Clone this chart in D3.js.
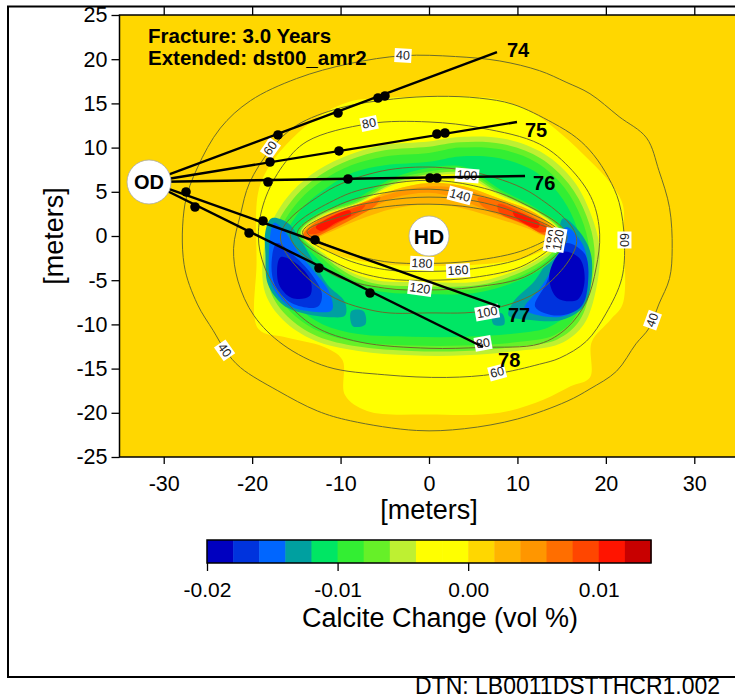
<!DOCTYPE html>
<html>
<head>
<meta charset="utf-8">
<script src="https://cdn.jsdelivr.net/npm/d3@7"></script>
<style>
  body { margin: 0; background: #fff; }
  text { font-family: "Liberation Sans", Arial, Helvetica, sans-serif; }
</style>
</head>
<body>
<svg width="735" height="700"></svg>
<script>
// ---- data ----
var xTicks = [-30, -20, -10, 0, 10, 20, 30];
var yTicks = [25, 20, 15, 10, 5, 0, -5, -10, -15, -20, -25];
var cbTicks = [-0.02, -0.01, 0.00, 0.01];
var bandEdges = [-0.020, -0.018, -0.016, -0.014, -0.012, -0.010, -0.008, -0.006, -0.004,
                 -0.002, 0.000, 0.002, 0.004, 0.006, 0.008, 0.010, 0.012, 0.014];
var bandColors = ["#0000c0", "#0033dd", "#0066ff", "#00a0a0", "#00e664", "#33ee33", "#66f028",
                  "#bef032", "#ffff00", "#ffff00", "#ffd700", "#ffb400", "#ff9600", "#ff6e00",
                  "#ff4600", "#ff1400", "#c80000"];
var titleLines = ["Fracture: 3.0 Years", "Extended: dst00_amr2"];

// calcite change regions [x, y] in meters
var yellowOuter = [[0,15.8],[-5,15.6],[-9,15.2],[-12.5,13.5],[-15.5,11],[-18,8],[-19.3,5],[-19.5,-3],[-19.3,-10.5],[-16,-11.5],[-12,-12.5],[-9.8,-14],[-9.5,-18],[-7,-19.8],[0,-20.2],[8,-20],[13,-18.5],[16,-17],[18.2,-16],[18.4,-12],[20.5,-9.5],[21.9,-7.7],[22,0],[21.9,3.6],[20.5,6],[18.2,8.5],[15,11.5],[12,13.8],[8,15.4],[4,15.8]];
var ygOuter = [[0,10.7],[-5,10.3],[-9,9.2],[-12.5,7.5],[-15.5,5],[-17.8,1.5],[-18.8,-2.5],[-18.5,-6.5],[-16.5,-9.5],[-13,-11.8],[-8,-13],[-2,-13.5],[4,-13.5],[10,-13],[14.8,-12.2],[17.5,-10],[18.9,-6],[19.3,-1.4],[18.3,2.5],[16.3,6.3],[13,9.3],[8.5,11],[3.5,11.2]];
var limeOuter = [[0,10.1],[-5,9.7],[-9,8.6],[-12.3,6.9],[-15,4.6],[-17.2,1.3],[-18.2,-2.5],[-17.9,-6.3],[-16,-9.1],[-12.7,-11.3],[-8,-12.5],[-2,-13],[4,-13],[10,-12.5],[14.5,-11.7],[17,-9.6],[18.3,-5.8],[18.7,-1.4],[17.8,2.3],[15.8,5.9],[12.6,8.8],[8.3,10.4],[3.5,10.6]];
var greenOuter = [[0,9.4],[-5,9.0],[-8.8,8.0],[-12,6.3],[-14.6,4.1],[-16.7,1.0],[-17.6,-2.5],[-17.3,-6.1],[-15.5,-8.7],[-12.4,-10.8],[-8,-12],[-2,-12.4],[4,-12.4],[10,-12],[14.2,-11.2],[16.5,-9.2],[17.7,-5.6],[18.1,-1.4],[17.2,2.1],[15.3,5.5],[12.2,8.3],[8.1,9.8],[3.5,10]];
var brightOuter = [[0,8.4],[-5,8],[-8.5,7.2],[-11.5,5.5],[-14,3.5],[-16,0.6],[-16.8,-2.5],[-16.5,-5.8],[-14.8,-8.1],[-12,-10],[-8,-11.1],[-2,-11.4],[4,-11.4],[10,-11],[13.6,-10.3],[15.8,-8.5],[16.9,-5.3],[17.2,-1.4],[16.4,1.8],[14.6,4.9],[11.8,7.4],[8,8.8],[3.5,9]];
var leftTeal = [[-17.8,2],[-16,1.5],[-14.5,-0.5],[-13,-3],[-11.5,-5.5],[-9.5,-7.5],[-9.5,-9],[-11,-9.2],[-14,-8.8],[-16.5,-7.8],[-18.2,-5.5],[-18.5,-2],[-18.5,0.5]];
var leftLight = [[-17.5,1.5],[-16.3,0.5],[-15,-1.5],[-13,-4],[-11.2,-6.5],[-11,-8.4],[-13.5,-8.5],[-16,-7.8],[-17.8,-5.5],[-18.1,-2]];
var leftBlue = [[-17.2,-0.8],[-15.5,-2],[-13.3,-4.3],[-12.1,-6.6],[-12.6,-8],[-15.5,-7.6],[-17.4,-5.6],[-17.8,-3]];
var leftDark = [[-16.8,-2.4],[-15,-3.1],[-13.4,-5],[-13.5,-6.8],[-15.5,-7],[-17,-5.4]];
var rightTeal = [[15.2,2],[17,0.5],[18.3,-2],[18.3,-5.5],[17.5,-8],[15,-9.5],[11.5,-9.5],[9,-9],[9.5,-7.5],[12,-5],[13.5,-2.5],[14.5,0]];
var rightLight = [[15.5,1],[17.4,-1],[18,-4],[17.5,-7.2],[15.5,-9],[12.5,-9],[10.8,-8.2],[12.5,-6],[14,-3.5],[14.8,-1]];
var rightBlue = [[15.5,-0.8],[17.6,-2],[18,-5],[17.2,-8],[14.5,-9],[12,-8],[13.2,-5.5],[14.3,-2.8]];
var rightDark = [[15,-1.8],[17,-2.5],[17.6,-5],[16.8,-7.2],[14.5,-7],[13.6,-4.5]];
var spotLeft = [[-8.8,-8.5],[-7.4,-8.5],[-7.2,-10],[-8.6,-10.2]];
var spotRight = [[7.2,-8.8],[8.3,-8.8],[8.5,-10],[7.3,-10]];
var innerBright = [[-14.8,0.5],[-12.5,2.6],[-8.5,4.1],[-4,6.6],[0,7.7],[4,7.8],[8,5.3],[12,3.2],[15.2,0.8],[15,-1.4],[12.3,-4.0],[6,-6.3],[0,-6.6],[-6,-6.2],[-9.5,-5.0],[-12.6,-2.6]];
var innerGreen = [[-14.6,0.4],[-12.4,2.5],[-8.3,3.9],[-4,6.3],[0,7.3],[4,7.4],[8,5.0],[12,3.0],[15,0.6],[14.7,-1.3],[12,-3.7],[6,-5.9],[0,-6.1],[-6,-5.8],[-9.3,-4.6],[-12.3,-2.3]];
var innerLime = [[-14.5,0.4],[-12.2,2.4],[-8.1,3.8],[-4,6.0],[0,7.0],[4,7.1],[8,4.8],[12,2.9],[14.9,0.5],[14.5,-1.2],[11.8,-3.4],[6,-5.5],[0,-5.7],[-6,-5.4],[-9.1,-4.3],[-12.1,-2.1]];
var innerYG = [[-14.4,0.4],[-12,2.3],[-8,3.7],[-4,5.8],[0,6.8],[4,6.8],[8,4.6],[12,2.8],[14.8,0.4],[14.3,-1.1],[11.5,-3.1],[6,-5.1],[0,-5.2],[-6,-5.0],[-9,-4.0],[-12,-1.9]];
var innerGold = [[-14.3,0.3],[-12,2.2],[-8,3.6],[-4,5.2],[0,6.0],[4,5.6],[8,4.2],[12,2.6],[14.6,0.3],[13.8,-1],[11,-2.4],[6,-3.2],[0,-3.4],[-6,-3.1],[-10,-2.3],[-12.8,-1]];
var crescent1 = [[-14.3,0.3],[-12,2.2],[-8,3.6],[-4,5.2],[0,6.0],[4,5.6],[8,4.2],[12,2.6],[14.6,0.3],[13.2,0.0],[11,0.9],[7,2.2],[3,3.3],[0,3.6],[-4,3.1],[-8,1.8],[-11.5,0.3],[-13.8,-0.5]];
var crescent2 = [[-14.1,0.2],[-12,2.0],[-8,3.4],[-4,4.9],[0,5.6],[4,5.3],[8,3.9],[12,2.4],[14.4,0.3],[13.4,0.2],[11,1.2],[7,2.7],[3,4.3],[0,4.9],[-4,4.3],[-8,2.3],[-11.5,0.8],[-13.8,-0.2]];
var redLeft3 = [[-14.2,0.2],[-12,2.1],[-9.5,3.1],[-7,3.9],[-5.5,4.4],[-6,3.5],[-8.5,2.0],[-11.5,0.5],[-13.7,-0.4]];
var redRight3 = [[5.5,4.3],[8,3.9],[11,2.6],[14.3,0.3],[13.2,0.1],[11,1.2],[8,2.5],[6,3.4]];
var redLeft4 = [[-13.8,0.3],[-11.5,2.0],[-9,3.0],[-7.2,3.5],[-7.8,2.8],[-10,1.6],[-12.5,0.3]];
var redRight4 = [[7.8,3.6],[10.5,2.6],[13.5,0.8],[12.8,0.4],[10.5,1.5],[8,2.6]];
var redLeft5 = [[-12.8,1.0],[-11,2.2],[-9,2.9],[-8.8,2.4],[-10.5,1.5],[-12.2,0.6]];
var redRight5 = [[9.5,2.8],[12.5,1.4],[12.3,0.9],[9.8,2.1]];

// paint order: region, calcite change value
var fieldLayers = [
  [yellowOuter, -0.001], [ygOuter, -0.005], [limeOuter, -0.007], [greenOuter, -0.009], [brightOuter, -0.011],
  [leftTeal, -0.013], [leftLight, -0.015], [leftBlue, -0.017], [leftDark, -0.019],
  [rightTeal, -0.013], [rightLight, -0.015], [rightBlue, -0.017], [rightDark, -0.019],
  [spotLeft, -0.013], [spotRight, -0.013],
  [innerBright, -0.009], [innerGreen, -0.007], [innerLime, -0.005], [innerYG, -0.003], [innerGold, 0.001],
  [crescent1, 0.003], [crescent2, 0.005], [redLeft3, 0.007], [redRight3, 0.007],
  [redLeft4, 0.009], [redRight4, 0.009], [redLeft5, 0.011], [redRight5, 0.011]
];

// temperature contours (deg C), [x, y] in meters
var t40 = [[-2.9,20.4],[3,20.3],[8,19.8],[12.5,18.7],[15.5,17.4],[18.2,16.1],[21.5,13.5],[24.6,11.1],[26,7.4],[27.2,3.2],[27.5,-1.4],[27.2,-4.8],[26,-7.7],[24.9,-10.4],[23.4,-12.2],[21.2,-15.3],[18.2,-17.3],[15.6,-18.7],[10,-20.7],[4,-21.8],[-1.4,-22],[-8.9,-20.9],[-12.6,-19.8],[-17.1,-17.5],[-21.3,-14.9],[-23,-13],[-24.4,-10.7],[-26.2,-7.7],[-27.7,-3.2],[-27.6,3.6],[-26.2,7.7],[-23.6,12.2],[-20.2,15.3],[-15,17.8],[-9,19.5]];
var t60 = [[1,15.8],[5.7,15.6],[9.5,14.9],[14,12.8],[16.7,11.1],[18.6,9.2],[20.3,6.6],[21.5,3.8],[22.1,-0.6],[21.8,-4.8],[20,-8.8],[17.8,-11.9],[14.8,-13.8],[12.5,-14.5],[7.5,-15.6],[2,-16],[-5,-15.7],[-11.5,-14.8],[-16.5,-12.3],[-19.8,-9],[-21.6,-5.1],[-22.1,-1.4],[-21.3,2.5],[-20.3,6],[-17.9,9.8],[-15,12.5],[-10,14.5],[-4,15.5]];
var t80 = [[0,12.9],[6,12.2],[12.5,10.4],[16.2,7.4],[18.5,4],[19.3,0.2],[18.9,-3.6],[17.8,-7.4],[15.6,-10.4],[12.5,-12.2],[6,-12.6],[0,-12.7],[-7.8,-12],[-13,-10.2],[-16.5,-7],[-18.6,-3.5],[-19.3,0],[-18.6,4],[-16.5,8],[-13.8,10.7],[-6.8,12.7]];
var t100 = [[-16.8,0],[-12,4.8],[-6,7.2],[0,7.8],[6,7.0],[12,4.6],[16.7,-0.3],[13,-5.8],[6.5,-8.4],[0,-8.7],[-6,-8.5],[-12,-6.2]];
var t120 = [[-15.7,0.2],[-10,4.4],[-5,5.8],[0,6.3],[5,5.7],[10,4.0],[15.6,0],[11.5,-4.3],[5,-5.8],[0,-6.1],[-5,-5.9],[-11,-4.3]];
var t140 = [[-14.9,0.3],[-10,3.6],[-5,4.9],[0,5.3],[5,4.7],[10,3.2],[14.8,0.2],[11,-3.2],[5,-4.7],[0,-5.0],[-5,-4.8],[-10,-3.3]];
var t160 = [[-14.3,0.4],[-10,2.9],[-5,4.0],[0,4.4],[5,4.0],[10,2.6],[14.4,0.3],[11,-2.3],[5,-3.7],[0,-4.0],[-5,-3.8],[-10,-2.4]];
var t180 = [[-13.8,0.5],[-10,2.2],[-5,3.3],[0,3.6],[5,3.2],[10,2.0],[14.1,0.4],[11,-1.5],[5,-2.8],[0,-3.1],[-5,-2.9],[-10,-1.6]];
var tempContours = [t40, t60, t80, t100, t120, t140, t160, t180];

// contour labels: level, x, y (meters)
var contourLabels = [[40,-2.94,20.48],[80,-6.79,12.78],[60,-17.98,9.95],[60,22.16,-0.45],[40,25.22,-9.5],
  [40,-23.07,-12.9],[100,4.3,6.9],[140,3.5,4.64],[180,-0.79,-3.05],[160,3.28,-3.85],[120,-1.02,-5.88],
  [100,6.56,-8.6],[80,6.1,-12.1],[60,7.69,-15.38],[180,13.8,-0.45],[120,14.59,-0.45]];
var labelAngles = [3, -12, -55, 90, -70, 55, 5, 15, 3, -3, 8, -10, -10, -15, -80, -80];

// boreholes
var odCenter = [-31.66, 6.11];
var hdCenter = [0, 0];
var boreNames = ["74", "75", "76", "77", "78"];
var boreEnds = [[7.69,20.81],[9.95,12.9],[10.86,6.79],[8.03,-8.03],[6.11,-12.56]];
var boreDots = [
  [[-17.08,11.43],[-10.29,13.91],[-5.77,15.61],[-4.98,15.84]],
  [[-17.98,8.37],[-10.18,9.62],[0.9,11.54],[1.81,11.65]],
  [[-18.21,6.11],[-9.16,6.45],[0.11,6.56],[0.9,6.56]],
  [[-27.48,4.98],[-18.77,1.70],[-12.89,-0.45]],
  [[-26.46,3.28],[-20.35,0.34],[-12.44,-3.62],[-6.67,-6.45]]
];

// ---- drawing ----
var svg = d3.select("svg");
var x = d3.scaleLinear().domain([-35, 35]).range([119.5, 738.5]);
var y = d3.scaleLinear().domain([-25, 25]).range([457, 15]);
var color = d3.scaleThreshold().domain(bandEdges.slice(1, -1)).range(bandColors);

// outer frame
svg.append("rect").attr("x", 8).attr("y", 6.5).attr("width", 745).attr("height", 670.5)
  .attr("fill", "none").attr("stroke", "#000").attr("stroke-width", 2);

svg.append("clipPath").attr("id", "plotclip").append("rect")
  .attr("x", x(-35)).attr("y", y(25)).attr("width", x(35) - x(-35)).attr("height", y(-25) - y(25));

var plot = svg.append("g").attr("clip-path", "url(#plotclip)");
plot.append("rect").attr("x", x(-35)).attr("y", y(25)).attr("width", x(35) - x(-35))
  .attr("height", y(-25) - y(25)).attr("fill", color(0.001));

var area = d3.line().x(function(d) { return x(d[0]); }).y(function(d) { return y(d[1]); })
  .curve(d3.curveCatmullRomClosed.alpha(0.5));

plot.selectAll(".region").data(fieldLayers).enter().append("path")
  .attr("class", "region")
  .attr("d", function(d) { return area(d[0]); })
  .attr("fill", function(d) { return color(d[1]); });

plot.selectAll(".temp").data(tempContours).enter().append("path")
  .attr("class", "temp")
  .attr("d", area)
  .attr("fill", "none").attr("stroke", "#6c6c2c").attr("stroke-width", 1);

var labs = plot.selectAll(".clab").data(contourLabels).enter().append("g")
  .attr("class", "clab")
  .attr("transform", function(d, i) { return "translate(" + x(d[1]) + "," + y(d[2]) + ") rotate(" + labelAngles[i] + ")"; });
labs.append("rect").attr("fill", "#fff");
labs.append("text").attr("text-anchor", "middle").attr("dy", "0.36em")
  .attr("font-size", 12.5).attr("fill", "#222").text(function(d) { return d[0]; });
labs.each(function() {
  var g = d3.select(this), b = g.select("text").node().getBBox();
  g.select("rect").attr("x", b.x - 1.5).attr("y", b.y).attr("width", b.width + 3).attr("height", b.height);
});

// boreholes
plot.selectAll(".bore").data(boreEnds).enter().append("line")
  .attr("x1", x(odCenter[0])).attr("y1", y(odCenter[1]))
  .attr("x2", function(d) { return x(d[0]); }).attr("y2", function(d) { return y(d[1]); })
  .attr("stroke", "#000").attr("stroke-width", 2.4);

plot.selectAll(".dot").data(d3.merge(boreDots)).enter().append("circle")
  .attr("cx", function(d) { return x(d[0]); }).attr("cy", function(d) { return y(d[1]); })
  .attr("r", 4.8).attr("fill", "#000");

var labelShift = [[10, 5], [8, 15], [8, 14], [8, 15], [15, 20]];
plot.selectAll(".bname").data(boreNames).enter().append("text")
  .attr("x", function(d, i) { return x(boreEnds[i][0]) + labelShift[i][0]; })
  .attr("y", function(d, i) { return y(boreEnds[i][1]) + labelShift[i][1]; })
  .attr("font-size", 20).attr("font-weight", "bold").text(function(d) { return d; });

// OD / HD markers
[[odCenter, "OD", 22, 20], [hdCenter, "HD", 20, 21]].forEach(function(m) {
  plot.append("circle").attr("cx", x(m[0][0])).attr("cy", y(m[0][1])).attr("r", m[2])
    .attr("fill", "#fff").attr("stroke", "#aaa").attr("stroke-width", 0.8);
  plot.append("text").attr("x", x(m[0][0])).attr("y", y(m[0][1])).attr("dy", "0.36em")
    .attr("text-anchor", "middle").attr("font-size", m[3]).attr("font-weight", "bold").text(m[1]);
});

// title
plot.selectAll(".title").data(titleLines).enter().append("text")
  .attr("x", 148).attr("y", function(d, i) { return 43 + i * 22; })
  .attr("font-size", 20.5).attr("font-weight", "bold").text(function(d) { return d; });

// plot border
svg.append("rect").attr("x", x(-35)).attr("y", y(25)).attr("width", x(35) - x(-35))
  .attr("height", y(-25) - y(25)).attr("fill", "none").attr("stroke", "#000").attr("stroke-width", 1.5);

// axes (plain hyphen minus, as in the original)
var plain = function(d) { return String(d); };
var ax = svg.append("g").attr("transform", "translate(0," + y(-25) + ")")
  .call(d3.axisBottom(x).tickValues(xTicks).tickSize(7).tickPadding(12).tickFormat(plain));
var at = svg.append("g").attr("transform", "translate(0," + y(25) + ")")
  .call(d3.axisTop(x).tickValues(xTicks).tickSize(8).tickFormat(""));
var ay = svg.append("g").attr("transform", "translate(" + x(-35) + ",0)")
  .call(d3.axisLeft(y).tickValues(yTicks).tickSize(8).tickPadding(4).tickFormat(plain));
[ax, at, ay].forEach(function(a) {
  a.select(".domain").remove();
  a.selectAll("line").attr("stroke", "#000").attr("stroke-width", 1.3);
  a.selectAll("text").attr("font-size", 21.5).attr("fill", "#000")
    .style("font-family", "'Liberation Sans', Arial, sans-serif");
});

svg.append("text").attr("x", x(0)).attr("y", 519).attr("text-anchor", "middle")
  .attr("font-size", 27).text("[meters]");
svg.append("text").attr("transform", "translate(63," + y(0) + ") rotate(-90)")
  .attr("text-anchor", "middle").attr("font-size", 27).text("[meters]");

// colour bar
var cb = d3.scaleLinear().domain([bandEdges[0], bandEdges[bandEdges.length - 1]]).range([207, 651]);
var cbg = svg.append("g");
cbg.selectAll("rect").data(bandColors).enter().append("rect")
  .attr("x", function(d, i) { return cb(bandEdges[i]); })
  .attr("width", function(d, i) { return cb(bandEdges[i + 1]) - cb(bandEdges[i]) + 0.5; })
  .attr("y", 540).attr("height", 23).attr("fill", function(d) { return d; });
cbg.append("rect").attr("x", cb.range()[0]).attr("y", 540).attr("width", cb.range()[1] - cb.range()[0])
  .attr("height", 23).attr("fill", "none").attr("stroke", "#000").attr("stroke-width", 1.5);
var acb = svg.append("g").attr("transform", "translate(0,563)")
  .call(d3.axisBottom(cb).tickValues(cbTicks).tickSize(8).tickPadding(11)
    .tickFormat(function(d) { return d.toFixed(2); }));
acb.select(".domain").remove();
acb.selectAll("line").attr("stroke", "#000").attr("stroke-width", 1.3);
acb.selectAll("text").attr("font-size", 21).attr("fill", "#000");

svg.append("text").attr("x", 440).attr("y", 627).attr("text-anchor", "middle")
  .attr("font-size", 27).text("Calcite Change (vol %)");
svg.append("text").attr("x", 415).attr("y", 694).attr("font-size", 23).text("DTN: LB0011DSTTHCR1.002");
</script>
</body>
</html>
